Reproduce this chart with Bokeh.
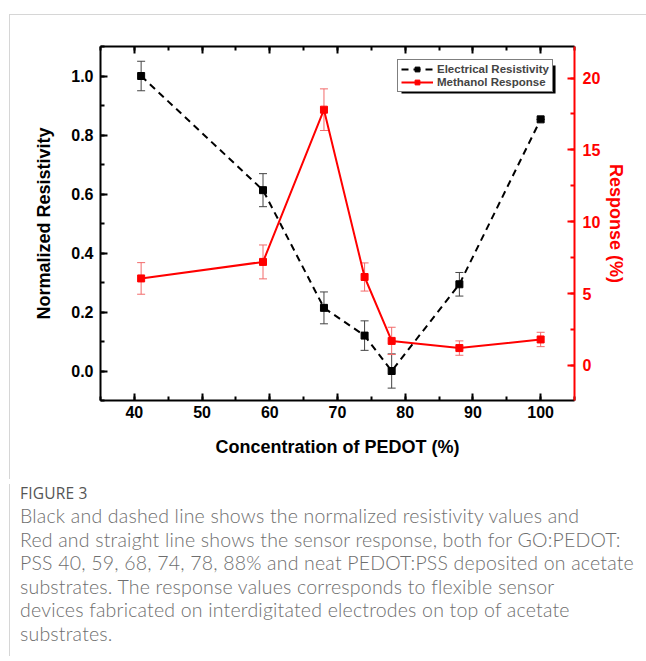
from bokeh.plotting import figure
from bokeh.models import (Range1d, LinearAxis, SingleIntervalTicker, PrintfTickFormatter,
                          Whisker, ColumnDataSource, Legend, LegendItem, BoxAnnotation,
                          TeeHead, Div)
from bokeh.layouts import column
from bokeh.embed import file_html
from bokeh.resources import INLINE

# ---- data ----
concentration = [41, 59, 68, 74, 78, 88, 100]
resistivity = [1.0, 0.613, 0.214, 0.12, 0.0, 0.294, 0.853]
resistivity_err = [0.05, 0.056, 0.054, 0.05, 0.058, 0.04, 0.0]
response = [6.05, 7.2, 17.8, 6.15, 1.7, 1.2, 1.8]
response_err = [1.1, 1.18, 1.45, 0.98, 0.95, 0.5, 0.5]

x_label = "Concentration of PEDOT (%)"
y_label = "Normalized Resistivity"
y2_label = "Response (%)"
series_names = ["Electrical Resistivity", "Methanol Response"]
caption_title = "FIGURE 3"
caption_lines = [
    "Black and dashed line shows the normalized resistivity values and",
    "Red and straight line shows the sensor response, both for GO:PEDOT:",
    "PSS 40, 59, 68, 74, 78, 88% and neat PEDOT:PSS deposited on acetate",
    "substrates. The response values corresponds to flexible sensor",
    "devices fabricated on interdigitated electrodes on top of acetate",
    "substrates.",
]

FONT = "Liberation Sans"
RED = "#ff0000"
CARD = "#d6d6d6"

res_src = ColumnDataSource(dict(
    x=concentration, y=resistivity,
    lo=[v - e for v, e in zip(resistivity, resistivity_err)],
    hi=[v + e for v, e in zip(resistivity, resistivity_err)],
))
rsp_src = ColumnDataSource(dict(
    x=concentration, y=response,
    lo=[v - e for v, e in zip(response, response_err)],
    hi=[v + e for v, e in zip(response, response_err)],
))

p = figure(width=646, height=479, output_backend="svg", toolbar_location=None,
           x_range=Range1d(35, 105), y_range=Range1d(-0.1, 1.1),
           min_border_left=100, min_border_top=46, min_border_right=72, min_border_bottom=79,
           x_axis_location=None, y_axis_location=None)
p.extra_y_ranges = {"resp": Range1d(-2.45, 22.2)}
p.grid.visible = False
p.outline_line_color = None
p.background_fill_color = "white"
p.border_fill_alpha = 0
# card outline (top and left edges of the figure panel)
p.styles = {
    "background-color": "white",
    "background-image": f"linear-gradient({CARD}, {CARD}), linear-gradient({CARD}, {CARD})",
    "background-size": "100% 1px, 1px 100%",
    "background-position": "9px 14px, 9px 14px",
    "background-repeat": "no-repeat",
}


def style_axis(ax, color="black", labels=True):
    ax.axis_line_color = color
    ax.axis_line_width = 2
    ax.major_tick_line_color = color
    ax.minor_tick_line_color = color
    ax.major_tick_line_width = 2
    ax.minor_tick_line_width = 2
    ax.major_tick_in = 7
    ax.major_tick_out = 0
    ax.minor_tick_in = 4
    ax.minor_tick_out = 0
    ax.major_label_text_font = FONT
    ax.major_label_text_font_style = "bold"
    ax.major_label_text_font_size = "16px"
    ax.major_label_text_color = color if labels else None
    ax.axis_label_text_font = FONT
    ax.axis_label_text_font_style = "bold"
    ax.axis_label_text_font_size = "18px"
    ax.axis_label_text_color = color


xb = LinearAxis(ticker=SingleIntervalTicker(interval=10, num_minor_ticks=2), axis_label=x_label)
style_axis(xb)
xb.major_label_standoff = 5
xb.axis_label_standoff = 16
p.add_layout(xb, "below")

xt = LinearAxis(ticker=SingleIntervalTicker(interval=10, num_minor_ticks=2))
style_axis(xt, labels=False)
xt.major_label_standoff = 0
p.add_layout(xt, "above")

yl = LinearAxis(ticker=SingleIntervalTicker(interval=0.2, num_minor_ticks=2),
                formatter=PrintfTickFormatter(format="%.1f"), axis_label=y_label)
style_axis(yl)
yl.major_label_standoff = 7
yl.axis_label_standoff = 14
p.add_layout(yl, "left")

yr = LinearAxis(y_range_name="resp", ticker=SingleIntervalTicker(interval=5, num_minor_ticks=2),
                axis_label=y2_label)
style_axis(yr, color=RED)
yr.major_label_standoff = 8
yr.axis_label_standoff = 3
p.add_layout(yr, "right")

# shadow behind legend
p.add_layout(BoxAnnotation(left=79.45, right=102.2, top=1.0356, bottom=0.9407,
                           fill_color="black", fill_alpha=1, line_color=None, level="overlay"))

# error bars
p.add_layout(Whisker(source=res_src, base="x", upper="hi", lower="lo", dimension="height",
                     line_color="#444444", line_width=1,
                     upper_head=TeeHead(size=8, line_color="#444444", line_width=1),
                     lower_head=TeeHead(size=8, line_color="#444444", line_width=1)))
p.add_layout(Whisker(source=rsp_src, base="x", upper="hi", lower="lo", dimension="height",
                     y_range_name="resp", line_color="#f26b6b", line_width=1,
                     upper_head=TeeHead(size=8, line_color="#f26b6b", line_width=1),
                     lower_head=TeeHead(size=8, line_color="#f26b6b", line_width=1)))

bl = p.line("x", "y", source=res_src, line_color="black", line_width=2, line_dash="7 5")
bs = p.scatter("x", "y", source=res_src, marker="square", size=7, fill_color="black", line_color="black")
rl = p.line("x", "y", source=rsp_src, y_range_name="resp", line_color=RED, line_width=2)
rs = p.scatter("x", "y", source=rsp_src, y_range_name="resp", marker="square", size=7,
               fill_color=RED, line_color=RED)

legend = Legend(items=[LegendItem(label=series_names[0], renderers=[bl, bs]),
                       LegendItem(label=series_names[1], renderers=[rl, rs])],
                location=(297, 308))
legend.border_line_color = "black"
legend.border_line_width = 1
legend.background_fill_color = "white"
legend.background_fill_alpha = 1
legend.label_text_font = FONT
legend.label_text_font_style = "bold"
legend.label_text_font_size = "11.5px"
legend.glyph_width = 32
legend.glyph_height = 12
legend.label_height = 12
legend.label_standoff = 4
legend.spacing = 1
legend.padding = 3
legend.margin = 0
p.add_layout(legend)

caption_html = (
    '<div style="padding-left:20px;white-space:nowrap;">'
    f'<div style="font-family:\'Open Sans\';font-size:15.5px;font-weight:400;color:#555555;line-height:18px;letter-spacing:0.2px;">{caption_title}</div>'
    '<div style="margin-top:2px;font-family:Lato;font-size:19.5px;font-weight:300;color:#6e6e6e;'
    'line-height:23.6px;letter-spacing:0.2px;">'
    + "<br>".join(caption_lines) +
    '</div></div>'
)
cap = Div(text=caption_html, width=646, height=172, margin=(5, 0, 0, 0))
cap.styles = {
    "background-image": f"linear-gradient({CARD}, {CARD})",
    "background-size": "1px 100%",
    "background-position": "9px 0",
    "background-repeat": "no-repeat",
}

layout = column(p, cap, spacing=0)

open("out.html", "w").write(file_html(layout, INLINE))
